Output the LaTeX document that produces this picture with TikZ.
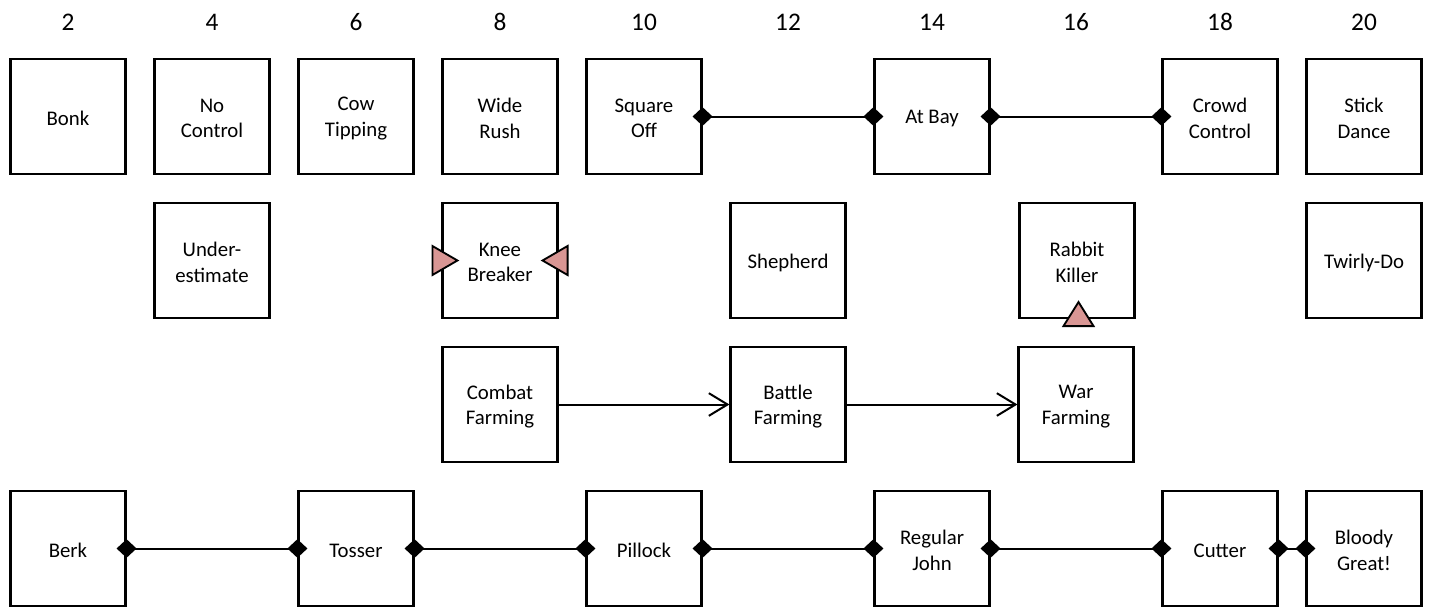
\documentclass[tikz,border=0pt]{standalone}
\usepackage{fontspec}
\setmainfont{Carlito}
\usetikzlibrary{arrows.meta,calc}
\definecolor{tri}{HTML}{D99694}
\begin{document}
\begin{tikzpicture}[x=0.75pt,y=-0.75pt,
  box/.style={draw, line width=1.6pt, minimum width=86.25pt, minimum height=86.25pt, inner sep=0pt, align=center, font=\fontsize{15.6}{19}\selectfont},
  lbl/.style={align=center, inner sep=0pt, font=\fontsize{15.6}{19}\selectfont},
  num/.style={font=\fontsize{19}{21}\selectfont},
  dia/.style={line width=1.5pt, {Diamond[length=15pt,width=14pt]}-{Diamond[length=15pt,width=14pt]}, shorten <=-7.5pt, shorten >=-7.5pt},
  arr/.style={line width=1.5pt, -{Straight Barb[length=14pt,width=17pt,line width=1.5pt]}},
  trimark/.style={draw, fill=tri, line width=1.4pt, line join=miter}
]
\useasboundingbox (0,0) rectangle (1429,607);
% level numbers
\foreach \n in {2,4,...,20} {
  \node[num] (n\n) at ({68+72*(\n-2)},22) {\n};
}
% row 1
\node[box] (bonk)  at (68,116.5)   {};
\node[box] (noc)   at (212,116.5)  {};
\node[box] (cow)   at (356,116.5)  {};
\node[box] (wide)  at (500,116.5)  {};
\node[box] (sq)    at (644,116.5)  {};
\node[box] (bay)   at (932,116.5)  {};
\node[box] (crowd) at (1220,116.5) {};
\node[box] (stick) at (1364,116.5) {};
% row 2
\node[box] (under) at (212,260.5)  {};
\node[box] (kb)    at (500,260.5)  {};
\node[box] (shep)  at (788,260.5)  {};
\node[box] (rk)    at (1077,260.5) {};
\node[box] (twirl) at (1364,260.5) {};
% row 3
\node[box] (cf)    at (500,404.5)  {};
\node[box] (bf)    at (788,404.5)  {};
\node[box] (wf)    at (1076,404.5) {};
% row 4
\node[box] (berk)  at (68,548.5)   {};
\node[box] (toss)  at (356,548.5)  {};
\node[box] (pill)  at (644,548.5)  {};
\node[box] (rj)    at (932,548.5)  {};
\node[box] (cut)   at (1220,548.5) {};
\node[box] (bg)    at (1364,548.5) {};
% labels (slightly below centre, as in the reference)
\foreach \b/\t in {bonk/Bonk, noc/No\\Control, cow/Cow\\Tipping, wide/Wide\\Rush, sq/Square\\Off, bay/At Bay, crowd/Crowd\\Control, stick/Stick\\Dance,
  under/Under-\\estimate, kb/Knee\\Breaker, shep/Shepherd, rk/Rabbit\\Killer, twirl/Twirly-Do,
  cf/Combat\\Farming, bf/Battle\\Farming, wf/War\\Farming,
  berk/Berk, toss/Tosser, pill/Pillock, rj/Regular\\John, cut/Cutter, bg/Bloody\\Great!} {
  \node[lbl, yshift=-1.5pt] (\b-t) at (\b.center) {\t};
}
% connectors
\draw[dia] (sq.east) -- (bay.west);
\draw[dia] (bay.east) -- (crowd.west);
\draw[dia] (berk.east) -- (toss.west);
\draw[dia] (toss.east) -- (pill.west);
\draw[dia] (pill.east) -- (rj.west);
\draw[dia] (rj.east) -- (cut.west);
\draw[dia] (cut.east) -- (bg.west);
\draw[arr] (cf.east) -- (bf.west);
\draw[arr] (bf.east) -- (wf.west);
% triangle markers
\draw[trimark] ($(kb.west)+(-9,-14.5)$) -- ($(kb.west)+(16,0)$) -- ($(kb.west)+(-9,14.5)$) -- cycle;
\draw[trimark] ($(kb.east)+(9,-14.5)$) -- ($(kb.east)+(-16,0)$) -- ($(kb.east)+(9,14.5)$) -- cycle;
\draw[trimark] ($(rk.south)+(-13.5,7)$) -- ($(rk.south)+(1.5,-17)$) -- ($(rk.south)+(16.5,7)$) -- cycle;
\end{tikzpicture}
\end{document}
